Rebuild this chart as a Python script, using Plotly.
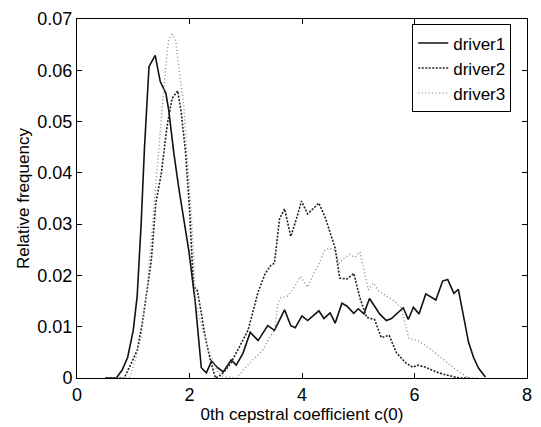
import plotly.graph_objects as go

# ---------------- data ----------------
d1_x = [0.5, 0.7, 0.8, 0.9, 1.0, 1.07, 1.14, 1.2, 1.28, 1.39, 1.48, 1.58, 1.63, 1.72, 1.81, 1.9,
        1.99, 2.1, 2.21, 2.3, 2.39, 2.5, 2.6, 2.74, 2.83, 2.95, 3.08, 3.22, 3.39, 3.51, 3.69, 3.8,
        3.88, 4.0, 4.1, 4.3, 4.39, 4.5, 4.59, 4.71, 4.8, 4.92, 5.0, 5.1, 5.2, 5.38, 5.5, 5.59,
        5.8, 5.89, 5.98, 6.08, 6.2, 6.38, 6.5, 6.59, 6.7, 6.78, 6.87, 6.96, 7.05, 7.14, 7.26]
d1_y = [0, 0, 0.0015, 0.004, 0.0093, 0.016, 0.03, 0.045, 0.0607, 0.0629, 0.0578, 0.0555, 0.0523,
        0.044, 0.037, 0.031, 0.0247, 0.015, 0.002, 0.001, 0.0033, 0.002, 0.0012, 0.0035, 0.0025,
        0.0048, 0.0089, 0.0073, 0.0102, 0.0093, 0.0133, 0.0102, 0.0098, 0.0121, 0.0112, 0.0131,
        0.0116, 0.0127, 0.0107, 0.0146, 0.014, 0.0126, 0.0135, 0.0125, 0.0155, 0.0125, 0.0112,
        0.0116, 0.0137, 0.0114, 0.0138, 0.0125, 0.0164, 0.0152, 0.0189, 0.0192, 0.0165, 0.0173,
        0.0118, 0.007, 0.004, 0.0019, 0.0002]

d2_x = [0.5, 0.84, 0.97, 1.07, 1.16, 1.25, 1.32, 1.4, 1.5, 1.6, 1.69, 1.79, 1.85, 1.93, 2.0,
        2.07, 2.14, 2.22, 2.28, 2.37, 2.46, 2.55, 2.64, 2.74, 2.83, 2.93, 3.04, 3.13, 3.22, 3.34,
        3.43, 3.51, 3.6, 3.69, 3.8, 3.9, 3.99, 4.1, 4.2, 4.3, 4.41, 4.5, 4.59, 4.67, 4.8, 4.92,
        5.03, 5.15, 5.29, 5.41, 5.55, 5.68, 5.85, 5.97, 6.06, 6.2, 6.38, 6.56, 6.8, 7.0]
d2_y = [0, 0, 0.003, 0.0054, 0.0106, 0.017, 0.0228, 0.034, 0.04, 0.049, 0.0545, 0.056, 0.052,
        0.044, 0.033, 0.018, 0.017, 0.012, 0.008, 0.0035, 0.0, 0.0005, 0.0015, 0.003, 0.0048,
        0.007, 0.0093, 0.013, 0.0168, 0.0202, 0.0218, 0.0224, 0.031, 0.033, 0.0276, 0.031,
        0.0345, 0.032, 0.033, 0.0341, 0.0314, 0.0285, 0.0253, 0.0195, 0.0193, 0.0204, 0.0156,
        0.0118, 0.0114, 0.0079, 0.0083, 0.0049, 0.0029, 0.0021, 0.0025, 0.0021, 0.0012, 0.0006,
        0.0, 0.0]

d3_x = [0.5, 0.93, 1.05, 1.14, 1.25, 1.34, 1.41, 1.49, 1.58, 1.63, 1.69, 1.75, 1.81, 1.9, 1.95,
        2.02, 2.07, 2.1, 2.22, 2.34, 2.51, 2.6, 2.83, 2.99, 3.16, 3.3, 3.43, 3.51, 3.57, 3.62,
        3.75, 3.87, 3.97, 4.1, 4.22, 4.31, 4.39, 4.48, 4.57, 4.66, 4.74, 4.85, 4.94, 5.03, 5.1,
        5.18, 5.27, 5.36, 5.5, 5.64, 5.76, 5.82, 5.9, 6.06, 6.24, 6.38, 6.52, 6.68, 6.82, 6.96, 7.1]
d3_y = [0, 0, 0.004, 0.008, 0.018, 0.03, 0.04, 0.049, 0.061, 0.066, 0.067, 0.066, 0.061, 0.053,
        0.044, 0.034, 0.0247, 0.015, 0.01, 0.0054, 0.001, 0.0003, 0, 0.002, 0.0039, 0.0054, 0.008,
        0.0093, 0.0145, 0.0156, 0.016, 0.0178, 0.0198, 0.0177, 0.0206, 0.0224, 0.0247, 0.0253,
        0.025, 0.0224, 0.0233, 0.0241, 0.0235, 0.0246, 0.021, 0.0172, 0.0185, 0.017, 0.016,
        0.015, 0.0137, 0.0112, 0.0077, 0.0073, 0.006, 0.0048, 0.0035, 0.0021, 0.001, 0, 0]

series_names = ["driver1", "driver2", "driver3"]
x_ticks = [0, 2, 4, 6, 8]
y_ticks = [0, 0.01, 0.02, 0.03, 0.04, 0.05, 0.06, 0.07]
y_tick_labels = ["0", "0.01", "0.02", "0.03", "0.04", "0.05", "0.06", "0.07"]
x_label = "0th cepstral coefficient c(0)"
y_label = "Relative frequency"

FONT = "Liberation Sans, Arial, Helvetica, sans-serif"

fig = go.Figure()
fig.add_trace(go.Scatter(x=d1_x, y=d1_y, mode="lines", name=series_names[0],
                         line=dict(color="#111111", width=1.6, dash="solid")))
fig.add_trace(go.Scatter(x=d2_x, y=d2_y, mode="lines", name=series_names[1],
                         line=dict(color="#222222", width=1.6, dash="2px,1.5px")))
fig.add_trace(go.Scatter(x=d3_x, y=d3_y, mode="lines", name=series_names[2],
                         line=dict(color="#8a8a8a", width=1.4, dash="1px,2.5px")))

axis_common = dict(showline=True, linecolor="black", linewidth=1, mirror="ticks",
                   ticks="inside", ticklen=5, tickcolor="black", showgrid=False,
                   zeroline=False, tickfont=dict(family=FONT, size=18, color="black"))

fig.update_layout(
    width=541, height=427,
    margin=dict(l=77, r=9, t=15, b=49),
    paper_bgcolor="white", plot_bgcolor="white",
    font=dict(family=FONT, size=17, color="black"),
    xaxis=dict(range=[0, 8], tickvals=x_ticks, ticktext=[str(v) for v in x_ticks],
               title=dict(text=x_label, font=dict(family=FONT, size=17), standoff=0),
               **axis_common),
    yaxis=dict(range=[0, 0.07], tickvals=y_ticks, ticktext=y_tick_labels,
               title=dict(text=y_label, font=dict(family=FONT, size=17), standoff=3),
               **axis_common),
    legend=dict(x=0.965, y=0.985, xanchor="right", yanchor="top",
                bgcolor="white", bordercolor="black", borderwidth=1,
                font=dict(family=FONT, size=17, color="black"),
                tracegroupgap=0),
    showlegend=True,
)

fig.write_html("out.html")
